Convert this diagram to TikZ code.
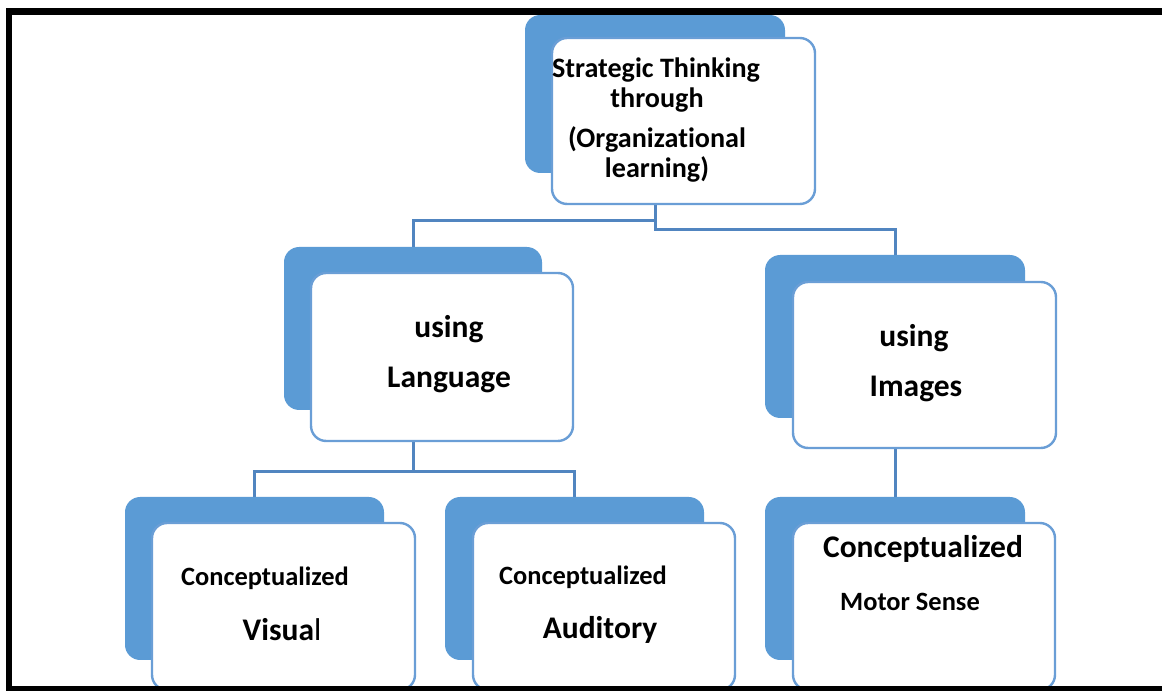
\documentclass[tikz,border=0pt]{standalone}
\usepackage{fontspec}
\setmainfont[Ligatures=NoCommon]{Carlito}
\usetikzlibrary{fit,backgrounds}

\definecolor{boxblue}{HTML}{5B9BD5}
\definecolor{edgeblue}{HTML}{6A9ED6}
\definecolor{linkblue}{HTML}{5185C0}

\tikzset{
  backbox/.style={rectangle, rounded corners=3.8mm, fill=boxblue, inner sep=0pt},
  frontbox/.style={rectangle, rounded corners=3.8mm, fill=white, draw=edgeblue, line width=0.6mm, inner sep=0pt},
  link/.style={draw=linkblue, line width=0.75mm},
  lbl/.style={anchor=base, inner sep=0pt, font=\bfseries\fontsize{18.8}{22}\selectfont},
  toplbl/.style={lbl, font=\bfseries\fontsize{20}{24}\selectfont},
  biglbl/.style={lbl, font=\bfseries\fontsize{22.4}{26}\selectfont},
}

\begin{document}
\begin{tikzpicture}[x=0.25mm,y=-0.25mm]
\useasboundingbox (0,0) rectangle (1162,691);

%%%%%% Top %%%%%%%
\node (topback) [backbox, fit={(525,15) (785,173)}] {};
\node (topfront) [frontbox, fit={(552,38) (815,204)}] {};
\node (top1) at (656,78) [toplbl] {Strategic Thinking};
\node (top2) at (657,108) [toplbl] {through};
\node (top3) at (657,148) [toplbl] {(Organizational};
\node (top4) at (657,178) [toplbl] {learning)};

%%%%%% Language %%%%%%%
\node (langback) [backbox, fit={(284,247) (542,410)}] {};
\node (langfront) [frontbox, fit={(311,273) (573,441)}] {};
\node (lang1) at (449,338) [biglbl] {using};
\node (lang2) at (449,388) [biglbl] {Language};

%%%%%% Images %%%%%%%
\node (imgback) [backbox, fit={(765,255) (1025,418)}] {};
\node (imgfront) [frontbox, fit={(793,282) (1056,448)}] {};
\node (img1) at (914,347) [biglbl] {using};
\node (img2) at (916,397) [biglbl] {Images};

%%%%%% Bottom row %%%%%%%
\node (visback) [backbox, fit={(125,497) (384,660)}] {};
\node (visfront) [frontbox, fit={(152,523) (415,690)}] {};
\node (vis1) at (265,586) [lbl] {Conceptualized};
\node (vis2) at (282,641) [biglbl] {Visua{\mdseries l}};

\node (audback) [backbox, fit={(445,497) (704,660)}] {};
\node (audfront) [frontbox, fit={(473,523) (735,690)}] {};
\node (aud1) at (583,585) [lbl] {Conceptualized};
\node (aud2) at (600,639) [biglbl] {Auditory};

\node (motback) [backbox, fit={(765,497) (1025,660)}] {};
\node (motfront) [frontbox, fit={(793,523) (1055,690)}] {};
\node (mot1) at (923,558) [biglbl] {Conceptualized};
\node (mot2) at (910,611) [lbl] {Motor Sense};

%%%%% Connectors %%%%%
\begin{scope}[on background layer]
\draw[link] (topback.south) -- ++(0,47) -| (langback.north);
\draw[link] (topback.south) -- ++(0,56) -| (imgback.north);
\draw[link] (langback.south) -- ++(0,61) -| (visback.north);
\draw[link] (langback.south) -- ++(0,61) -| (audback.north);
\draw[link] (imgback.south) -- (motback.north);
\end{scope}

%%%%% Frame %%%%%
\draw[line width=1.6mm] (1162,11.5) -- (9,11.5) -- (9,691);
\draw[line width=1.3mm] (9,688.5) -- (1162,688.5);

\end{tikzpicture}
\end{document}
